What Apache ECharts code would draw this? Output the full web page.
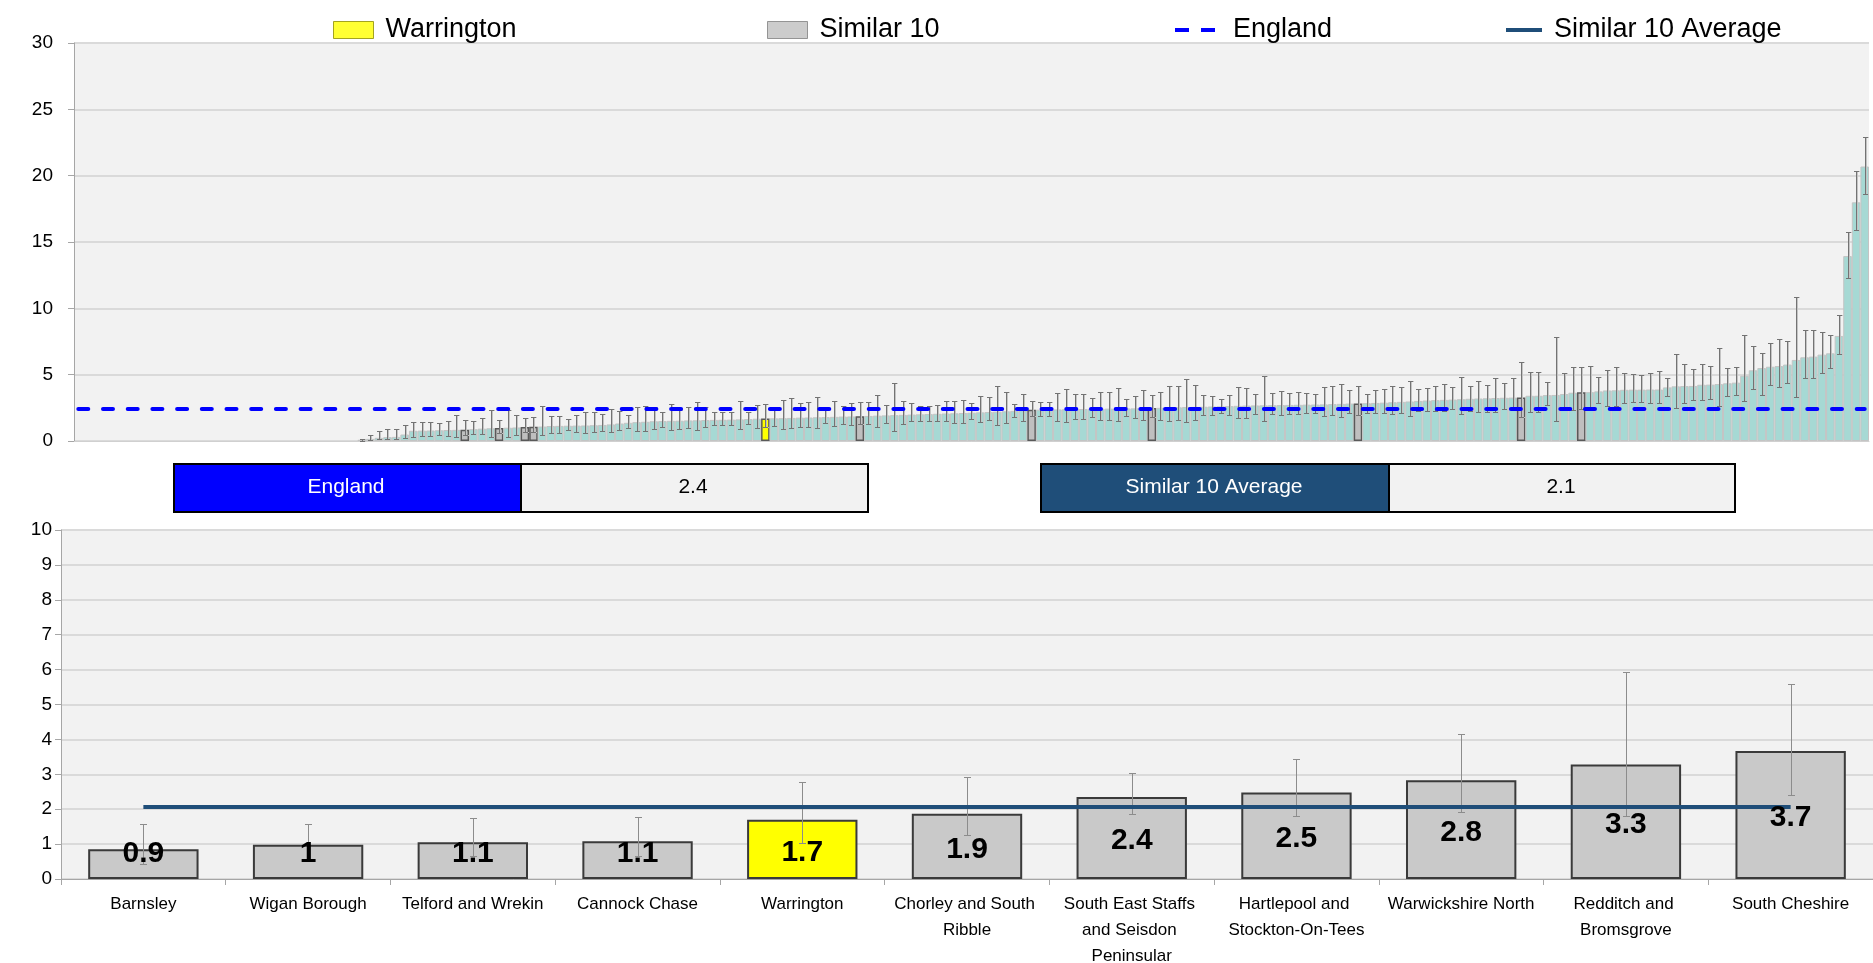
<!DOCTYPE html>
<html><head><meta charset="utf-8">
<script src="https://cdn.jsdelivr.net/npm/echarts@6/dist/echarts.min.js"></script>
<style>html,body{margin:0;padding:0;background:#fff}#c{width:1873px;height:963px}</style>
</head><body><div id="c"></div>
<script>
const FONT = "'Liberation Sans', Arial, sans-serif";
const NARROW = "'Liberation Sans Narrow', 'Liberation Sans', Arial, sans-serif";

// ---------- DATA ----------
// Top chart: all areas ranked low -> high. The first ranks have no value.
const blankRanks = 33;
const rankedValues = [
  0.09,0.16,0.24,0.29,0.31,0.49,0.77,0.78,0.79,0.81,0.83,0.84,0.85,0.89,0.93,0.96,0.98,1.00,1.02,1.05,1.08,1.09,1.13,1.14,1.15,1.16,1.17,1.19,1.21,1.25,1.32,1.37,1.42,
  1.45,1.49,1.50,1.52,1.53,1.55,1.56,1.58,1.59,1.60,1.61,1.63,1.65,1.68,1.70,1.71,1.72,1.74,1.76,1.77,1.79,1.80,1.82,1.84,1.85,1.87,1.89,1.91,1.93,1.95,1.97,1.99,2.01,2.03,2.05,
  2.07,2.09,2.11,2.13,2.16,2.18,2.21,2.24,2.27,2.31,2.35,2.36,2.37,2.38,2.39,2.40,2.41,2.42,2.43,2.44,2.45,2.46,2.46,2.47,2.48,2.50,2.52,2.54,2.56,2.57,2.58,2.60,2.61,2.63,2.65,
  2.67,2.68,2.69,2.70,2.71,2.72,2.73,2.74,2.75,2.76,2.78,2.80,2.82,2.83,2.85,2.87,2.89,2.92,2.95,2.98,3.02,3.05,3.08,3.10,3.12,3.15,3.18,3.20,3.22,3.24,3.26,3.27,3.28,
  3.41,3.41,3.46,3.47,3.54,3.64,3.67,3.68,3.74,3.81,3.82,3.86,3.87,3.87,3.88,3.88,4.04,4.12,4.14,4.15,
  4.24,4.25,4.29,4.35,4.40,4.92,5.33,5.50,5.60,5.65,5.76,6.11,6.31,6.36,6.51,6.61,7.92,13.94,17.99,20.69
];
const rankedLower = [
  0.03,0.09,0.14,0.16,0.14,0.26,0.29,0.36,0.34,0.42,0.36,0.29,0.42,0.52,0.55,0.29,0.58,0.29,0.44,0.65,0.66,0.42,0.64,0.64,0.85,0.69,0.64,0.71,0.79,0.71,0.84,0.97,0.79,
  0.79,0.92,1.05,0.84,0.92,0.97,0.84,1.05,1.17,1.22,1.22,0.89,1.27,1.00,1.03,1.15,0.92,0.97,1.07,1.05,0.97,1.35,1.10,1.27,1.20,1.25,1.30,1.02,1.35,0.79,1.25,1.47,1.52,1.49,1.49,
  1.48,1.38,1.38,1.68,1.42,1.55,1.22,1.38,1.83,1.47,1.85,1.89,1.92,1.52,1.45,1.65,1.65,1.80,1.57,1.60,1.47,1.88,1.75,1.60,1.80,1.55,1.52,1.55,1.40,1.60,1.97,1.97,2.09,1.95,1.72,
  1.76,2.06,1.47,2.06,1.94,2.06,2.01,2.13,2.13,1.88,1.94,1.84,2.11,1.93,2.13,2.13,2.13,2.06,2.13,1.88,2.23,2.23,2.28,2.23,2.43,2.06,2.26,2.20,2.20,2.20,2.43,2.30,1.80,
  2.22,2.22,2.68,1.47,2.30,2.36,2.40,2.43,2.88,2.66,2.61,2.86,2.93,2.91,2.86,2.86,3.41,2.46,2.88,3.11,
  3.06,3.19,2.61,3.36,3.49,2.98,3.94,3.44,4.19,4.07,4.37,3.34,4.77,4.77,5.13,5.50,6.54,12.30,15.88,18.60
];
const rankedUpper = [
  0.16,0.47,0.77,0.89,0.94,1.17,1.43,1.43,1.45,1.32,1.53,1.96,1.57,1.53,1.71,2.31,1.57,2.33,1.96,1.75,1.79,2.64,1.90,1.90,1.65,1.95,2.18,2.21,2.00,2.41,2.23,1.97,2.58,
  2.61,2.58,2.18,2.81,2.31,2.59,2.91,2.56,2.18,2.18,2.18,3.01,2.18,2.73,2.78,2.50,3.08,3.21,2.88,2.93,3.29,2.50,3.04,2.63,2.86,2.91,2.91,3.46,2.68,4.37,3.00,2.83,2.63,2.66,2.71,
  2.98,3.03,3.10,2.90,3.38,3.31,4.14,3.71,2.78,3.52,3.03,2.97,2.95,3.64,3.89,3.52,3.54,3.21,3.72,3.72,3.99,3.16,3.41,3.82,3.45,3.69,4.14,4.16,4.67,4.22,3.44,3.39,3.19,3.50,4.04,
  3.99,3.54,4.90,3.62,3.77,3.59,3.72,3.59,3.54,4.06,4.14,4.29,3.84,4.16,3.51,3.81,3.91,4.14,4.06,4.55,3.92,3.99,4.14,4.29,4.06,4.82,4.14,4.50,4.22,4.75,4.37,4.77,5.93,
  5.18,5.18,4.45,7.85,5.15,5.55,5.60,5.63,4.82,5.38,5.55,5.13,5.05,4.97,5.13,5.28,4.75,6.59,5.81,5.46,
  5.81,5.63,6.99,5.51,5.59,7.99,7.19,6.64,7.37,7.70,7.57,10.84,8.35,8.40,8.20,8.00,9.53,15.76,20.34,22.88
];

// Bottom chart: Warrington and its 10 similar areas, with their rank position in the top chart
const peerNames = ['Barnsley','Wigan Borough','Telford and Wrekin','Cannock Chase','Warrington',
  'Chorley and South Ribble','South East Staffs and Seisdon Peninsular','Hartlepool and Stockton-On-Tees',
  'Warwickshire North','Redditch and Bromsgrove','South Cheshire'];
const peerRank = [45,49,52,53,80,91,111,125,149,168,175];
const localArea = 'Warrington';

const englandValue = 2.4;
const similarAverage = 2.06;

const legendNames = ['Warrington','Similar 10','England','Similar 10 Average'];

// ---------- STYLE ----------
const TEAL = '#A6D9D4', PEER = '#BFBFBF', LOCAL = '#FFFF00', ENG = '#0000FF', AVG = '#1F4E79';

// ---------- BUILD ----------
const nTop = blankRanks + rankedValues.length;
const topCategories = [];
for (let i = 0; i < nTop; i++) topCategories.push(String(i + 1));
peerRank.forEach((r, k) => { topCategories[r] = peerNames[k]; });

const topBarData = [];
for (let i = 0; i < nTop; i++) {
  if (i < blankRanks) { topBarData.push('-'); continue; }
  const v = rankedValues[i - blankRanks];
  const k = peerRank.indexOf(i);
  if (k >= 0) {
    const local = peerNames[k] === localArea;
    topBarData.push({ value: v, itemStyle: { color: local ? LOCAL : PEER, borderColor: '#595959', borderWidth: 1.5 } });
  } else topBarData.push(v);
}
const topErrData = rankedValues.map((v, j) => [j + blankRanks, rankedLower[j], rankedUpper[j]]);

const peerValues = peerRank.map(r => rankedValues[r - blankRanks]);
const peerLower = peerRank.map(r => rankedLower[r - blankRanks]);
const peerUpper = peerRank.map(r => rankedUpper[r - blankRanks]);

const fmt1 = v => String(Math.round(v * 10) / 10);

function errRender(capHalf, color, width, shadow) {
  return function (params, api) {
    const x = api.value(0), lo = api.value(1), hi = api.value(2);
    const p1 = api.coord([x, hi]), p2 = api.coord([x, lo]);
    const cx = Math.round(p1[0]) + 0.5;
    const y1 = Math.round(p1[1]) + 0.5, y2 = Math.round(p2[1]) + 0.5;
    const mk = (dx, col) => {
      const st = { stroke: col, lineWidth: width, fill: null };
      return [
        { type: 'line', shape: { x1: cx + dx, y1: y1, x2: cx + dx, y2: y2 }, style: st },
        { type: 'line', shape: { x1: cx + dx - capHalf, y1: y1, x2: cx + dx + capHalf, y2: y1 }, style: st },
        { type: 'line', shape: { x1: cx + dx - capHalf, y1: y2, x2: cx + dx + capHalf, y2: y2 }, style: st }
      ];
    };
    let children = [];
    if (shadow) children = children.concat(mk(1, shadow));
    children = children.concat(mk(0, color));
    return { type: 'group', children: children };
  };
}

const axisLabelBase = { color: '#000', fontFamily: FONT, fontSize: 19 };

const option = {
  animation: false,
  backgroundColor: '#fff',
  textStyle: { fontFamily: FONT },
  grid: [
    { left: 74, right: 4, top: 43, height: 398, show: true, backgroundColor: '#F2F2F2', borderWidth: 0,
      containLabel: false, outerBoundsMode: 'none' },
    { left: 61, right: 0, top: 530, height: 349, show: true, backgroundColor: '#F2F2F2', borderWidth: 0,
      containLabel: false, outerBoundsMode: 'none' }
  ],
  legend: [
    { left: 328, top: 11, itemWidth: 40, itemHeight: 17, selectedMode: false,
      textStyle: { fontSize: 27, color: '#000', fontFamily: FONT, lineHeight: 28, padding: [0, 0, 0, 7] },
      data: [{ name: legendNames[0], icon: 'rect', itemStyle: { color: LOCAL, borderColor: '#8C8C00', borderWidth: 1 } }] },
    { left: 762, top: 11, itemWidth: 40, itemHeight: 17, selectedMode: false,
      textStyle: { fontSize: 27, color: '#000', fontFamily: FONT, lineHeight: 28, padding: [0, 0, 0, 7] },
      data: [{ name: legendNames[1], icon: 'rect', itemStyle: { color: PEER, borderColor: '#7F7F7F', borderWidth: 1 } }] },
    { left: 1170, top: 11, itemWidth: 40, itemHeight: 4, selectedMode: false,
      textStyle: { fontSize: 27, color: '#000', fontFamily: FONT, lineHeight: 28, padding: [0, 0, 0, 13] },
      data: [{ name: legendNames[2], icon: 'path://M0,0H14V4H0Z M26,0H40V4H26Z', itemStyle: { color: ENG } }] },
    { left: 1501, top: 11, itemWidth: 36, itemHeight: 4, selectedMode: false,
      textStyle: { fontSize: 27, color: '#000', fontFamily: FONT, lineHeight: 28, padding: [0, 0, 0, 7] },
      data: [{ name: legendNames[3], icon: 'rect', itemStyle: { color: AVG } }] }
  ],
  xAxis: [
    { type: 'category', gridIndex: 0, data: topCategories, boundaryGap: true,
      axisLabel: { show: false }, axisTick: { show: false },
      axisLine: { show: true, lineStyle: { color: '#D0D0D0', width: 1 } } },
    { type: 'category', gridIndex: 1, data: peerNames, boundaryGap: true,
      axisLabel: Object.assign({}, axisLabelBase, { fontSize: 17, width: 160, overflow: 'break', lineHeight: 26, margin: 12, interval: 0 }),
      axisTick: { show: true, length: 6, lineStyle: { color: '#A6A6A6' } },
      axisLine: { show: true, lineStyle: { color: '#A6A6A6' } } }
  ],
  yAxis: [
    { type: 'value', gridIndex: 0, min: 0, max: 30, interval: 5,
      axisLabel: Object.assign({}, axisLabelBase, { margin: 21 }),
      axisLine: { show: true, lineStyle: { color: '#A6A6A6' } },
      axisTick: { show: true, length: 6, lineStyle: { color: '#A6A6A6' } },
      splitLine: { show: true, lineStyle: { color: '#DADADA', width: 2 } } },
    { type: 'value', gridIndex: 1, min: 0, max: 10, interval: 1,
      axisLabel: Object.assign({}, axisLabelBase, { margin: 9 }),
      axisLine: { show: true, lineStyle: { color: '#A6A6A6' } },
      axisTick: { show: true, length: 6, lineStyle: { color: '#A6A6A6' } },
      splitLine: { show: true, lineStyle: { color: '#DADADA', width: 2 } } }
  ],
  series: [
    // top chart
    { name: 'All areas', type: 'bar', xAxisIndex: 0, yAxisIndex: 0, data: topBarData,
      barCategoryGap: '0%', z: 2,
      itemStyle: { color: TEAL, borderColor: '#C4C4C4', borderWidth: 1 } },
    { name: 'Top errors', type: 'custom', xAxisIndex: 0, yAxisIndex: 0, data: topErrData, z: 3,
      encode: { x: 0, y: [1, 2] }, renderItem: errRender(2.5, '#737373', 1, '#C4C4C4') },
    { name: legendNames[2], type: 'line', xAxisIndex: 0, yAxisIndex: 0, data: [], z: 4,
      markLine: { silent: true, symbol: 'none', label: { show: false }, animation: false,
        lineStyle: { color: ENG, width: 4, type: [10, 14.7], cap: 'round' },
        data: [[{ coord: [0, englandValue] }, { coord: [nTop - 1, englandValue] }]] } },
    { name: legendNames[0], type: 'scatter', xAxisIndex: 0, yAxisIndex: 0, data: [] },
    { name: legendNames[1], type: 'scatter', xAxisIndex: 0, yAxisIndex: 0, data: [] },
    // bottom chart
    { name: 'Peers', type: 'bar', xAxisIndex: 1, yAxisIndex: 1, barWidth: '67%', barGap: '-100%', z: 2,
      data: peerValues.map((v, k) => ({ value: v, itemStyle: { color: peerNames[k] === localArea ? LOCAL : '#C9C9C9' } })),
      itemStyle: { borderColor: '#3A3A3A', borderWidth: 2 } },
    { name: 'Peer errors', type: 'custom', xAxisIndex: 1, yAxisIndex: 1, z: 3,
      data: peerValues.map((v, k) => [k, peerLower[k], peerUpper[k]]),
      encode: { x: 0, y: [1, 2] }, renderItem: errRender(3.5, '#8C8C8C', 1, null) },
    { name: legendNames[3], type: 'line', xAxisIndex: 1, yAxisIndex: 1, data: [], z: 4,
      markLine: { silent: true, symbol: 'none', label: { show: false }, animation: false,
        lineStyle: { color: AVG, width: 4, type: 'solid' },
        data: [[{ coord: [0, similarAverage] }, { coord: [peerNames.length - 1, similarAverage] }]] } },
    { name: 'Peer labels', type: 'bar', xAxisIndex: 1, yAxisIndex: 1, barWidth: '67%', barGap: '-100%', z: 6, silent: true,
      itemStyle: { color: 'rgba(0,0,0,0)' },
      data: peerValues.map(v => ({ value: v, label: v < 1.5 ? { position: 'insideBottom', distance: 10 } : { position: 'inside', offset: [0, 3] } })),
      label: { show: true, formatter: p => fmt1(p.value), color: '#000', fontFamily: NARROW, fontWeight: 'bold', fontSize: 30, lineHeight: 30 } }
  ],
  graphic: [
    { type: 'rect', left: 173, top: 463, shape: { width: 347, height: 48 }, style: { fill: ENG, stroke: '#000', lineWidth: 2 }, z: 10 },
    { type: 'rect', left: 520, top: 463, shape: { width: 347, height: 48 }, style: { fill: '#F2F2F2', stroke: '#000', lineWidth: 2 }, z: 10 },
    { type: 'rect', left: 1040, top: 463, shape: { width: 348, height: 48 }, style: { fill: AVG, stroke: '#000', lineWidth: 2 }, z: 10 },
    { type: 'rect', left: 1388, top: 463, shape: { width: 346, height: 48 }, style: { fill: '#F2F2F2', stroke: '#000', lineWidth: 2 }, z: 10 },
    { type: 'text', x: 346, y: 487, z: 11, style: { text: legendNames[2], fill: '#fff', font: '21px ' + FONT, textAlign: 'center', textVerticalAlign: 'middle' } },
    { type: 'text', x: 693, y: 487, z: 11, style: { text: fmt1(englandValue), fill: '#000', font: '21px ' + FONT, textAlign: 'center', textVerticalAlign: 'middle' } },
    { type: 'text', x: 1214, y: 487, z: 11, style: { text: legendNames[3], fill: '#fff', font: '21px ' + FONT, textAlign: 'center', textVerticalAlign: 'middle' } },
    { type: 'text', x: 1561, y: 487, z: 11, style: { text: fmt1(similarAverage), fill: '#000', font: '21px ' + FONT, textAlign: 'center', textVerticalAlign: 'middle' } }
  ]
};

const chart = echarts.init(document.getElementById('c'), null, { renderer: 'canvas' });
chart.setOption(option);
</script>
</body></html>
